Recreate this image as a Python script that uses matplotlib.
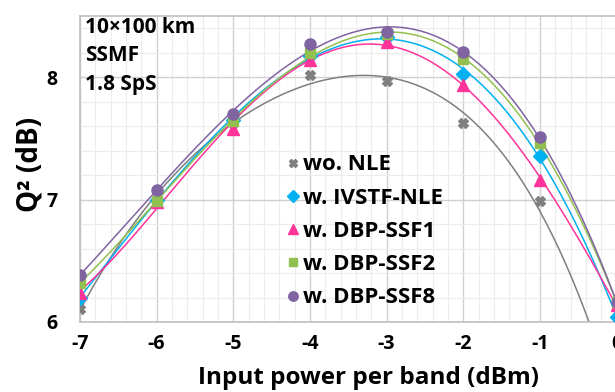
import numpy as np
import matplotlib
matplotlib.use('Agg')
import matplotlib.pyplot as plt
from matplotlib.ticker import MultipleLocator

plt.rcParams['font.family'] = ['Open Sans', 'DejaVu Sans']
plt.rcParams['font.weight'] = 'bold'
plt.rcParams['axes.unicode_minus'] = False

# data
power = [-7, -6, -5, -4, -3, -2, -1, 0]
# the 0 dBm point of wo. NLE lies below the visible range
wo_nle = [6.11, 7.00, 7.63, 8.02, 7.97, 7.63, 6.99, 5.30]
ivstf_nle = [6.20, 7.00, 7.65, 8.17, 8.33, 8.03, 7.36, 6.04]
dbp_ssf1 = [6.24, 6.98, 7.58, 8.14, 8.29, 7.94, 7.16, 6.14]
dbp_ssf2 = [6.32, 6.99, 7.64, 8.20, 8.35, 8.15, 7.46, 6.16]
dbp_ssf8 = [6.385, 7.08, 7.70, 8.27, 8.37, 8.21, 7.51, 6.16]

labels = ['wo. NLE', 'w. IVSTF-NLE', 'w. DBP-SSF1', 'w. DBP-SSF2', 'w. DBP-SSF8']
colors = ['#7f7f7f', '#00b0f0', '#ff3399', '#92c050', '#8064a2']
markers = ['X', 'D', '^', 's', 'o']
sizes = [7, 7, 8, 7, 8]
series = [wo_nle, ivstf_nle, dbp_ssf1, dbp_ssf2, dbp_ssf8]
info = ['10×100 km', 'SSMF', '1.8 SpS']

fig = plt.figure(figsize=(6.15, 3.92), dpi=100)
ax = fig.add_axes([0.130, 0.1786, 0.875, 0.7804])

handles = []
for vals, lab, c, m, s in zip(series, labels, colors, markers, sizes):
    xs = np.array(power, dtype=float)
    coef = np.polyfit(xs, vals, 4)
    xx = np.linspace(-7, 0, 300)
    ax.plot(xx, np.polyval(coef, xx), color=c, lw=1.1, zorder=2)
    h, = ax.plot(xs, vals, ls='none', marker=m, ms=s, color=c, mec=c, zorder=3,
                 label=lab)
    handles.append(h)

ax.set_xlim(-7, 0.02)
ax.set_ylim(6, 8.5)
ax.xaxis.set_major_locator(MultipleLocator(1))
ax.xaxis.set_minor_locator(MultipleLocator(0.2))
ax.yaxis.set_major_locator(MultipleLocator(1))
ax.yaxis.set_minor_locator(MultipleLocator(0.2))
ax.grid(which='major', color='#d0d0d0', lw=1.0)
ax.grid(which='minor', color='#ececec', lw=0.8)
ax.set_axisbelow(True)
ax.tick_params(which='both', length=0)
ax.tick_params(axis='x', pad=9, labelsize=14)
ax.tick_params(axis='y', pad=16, labelsize=14)
for sp in ax.spines.values():
    sp.set_color('#bfbfbf')
    sp.set_linewidth(1.2)

ax.set_xlabel('Input power per band (dBm)', fontsize=17.5, fontweight='bold', va='center')
ax.xaxis.set_label_coords(0.536, -0.184)
ax.set_ylabel('Q² (dB)', fontsize=20, fontweight='bold', va='center')
ax.yaxis.set_label_coords(-0.0935, 0.515)

for txt, yy in zip(info, [0.964, 0.872, 0.776]):
    ax.text(0.01, yy, txt, transform=ax.transAxes, fontsize=15,
            fontweight='bold', va='center', ha='left')

ax.legend(handles=handles, loc='center left', bbox_to_anchor=(0.379, 0.296),
          frameon=False, handletextpad=0.05, labelspacing=0.55, borderpad=0,
          borderaxespad=0, handlelength=0.8, markerscale=0.85,
          prop={'weight': 'bold', 'size': 16})

fig.savefig('out.png', dpi=100)
